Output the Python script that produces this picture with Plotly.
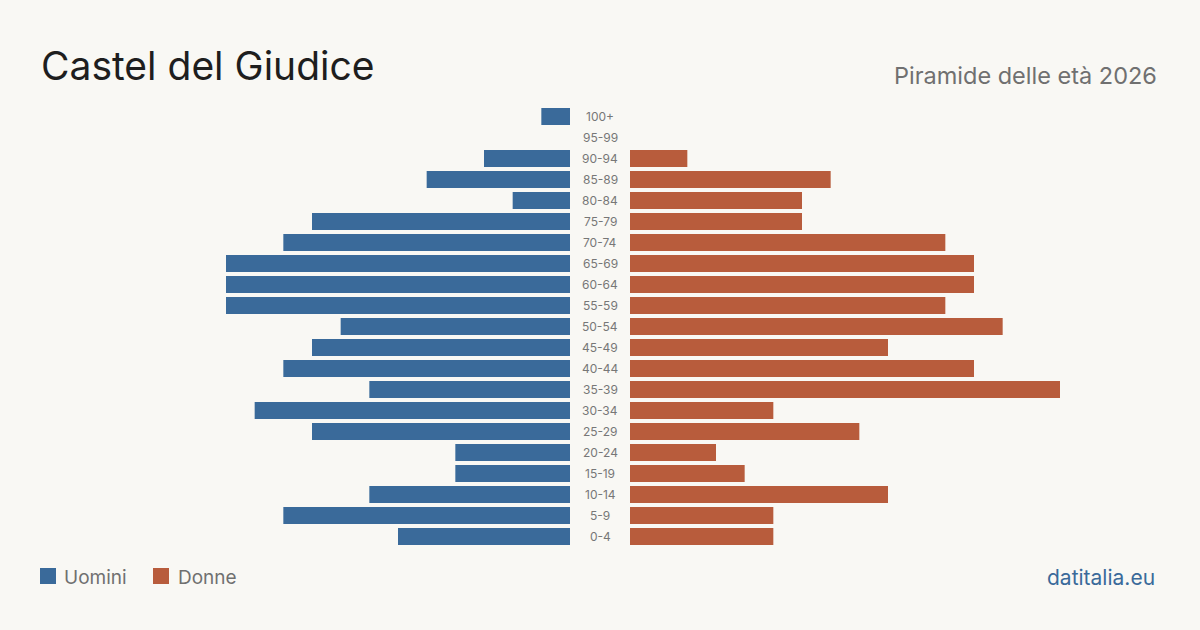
import plotly.graph_objects as go

age_groups = ["0-4", "5-9", "10-14", "15-19", "20-24", "25-29", "30-34", "35-39",
              "40-44", "45-49", "50-54", "55-59", "60-64", "65-69", "70-74", "75-79",
              "80-84", "85-89", "90-94", "95-99", "100+"]
men = [6, 10, 7, 4, 4, 9, 11, 7, 10, 9, 8, 12, 12, 12, 10, 9, 2, 5, 3, 0, 1]
women = [5, 5, 9, 4, 3, 8, 5, 15, 12, 9, 13, 11, 12, 12, 11, 6, 6, 7, 2, 0, 0]

BLUE = "#3a6a9a"
ORANGE = "#b85c3c"
BG = "#f9f8f4"
FONT = "Inter"

TOP, BOTTOM = 106, 83
PLOT_H = 630 - TOP - BOTTOM


def py(px):
    return (630 - BOTTOM - px) / PLOT_H


fig = go.Figure()
fig.add_trace(go.Bar(y=age_groups, x=men, orientation="h",
                     marker=dict(color=BLUE, line=dict(width=0)),
                     xaxis="x", yaxis="y", name="Uomini", showlegend=False))
fig.add_trace(go.Bar(y=age_groups, x=women, orientation="h",
                     marker=dict(color=ORANGE, line=dict(width=0)),
                     xaxis="x2", yaxis="y", name="Donne", showlegend=False))

annotations = []
for a in age_groups:
    annotations.append(dict(x=0.5, xref="paper", y=a, yref="y", text=a, showarrow=False,
                            font=dict(family=FONT, size=12, color="#777777"),
                            xanchor="center", yanchor="middle"))

annotations += [
    dict(x=39 / 1200, y=py(65), xref="paper", yref="paper", text="Castel del Giudice",
         showarrow=False, xanchor="left", yanchor="middle",
         font=dict(family=FONT, size=39, color="#1e1e1e")),
    dict(x=1159 / 1200, y=py(76), xref="paper", yref="paper", text="Piramide delle età 2026",
         showarrow=False, xanchor="right", yanchor="middle",
         font=dict(family=FONT, size=23.5, color="#707070")),
    dict(x=62 / 1200, y=py(577), xref="paper", yref="paper", text="Uomini",
         showarrow=False, xanchor="left", yanchor="middle",
         font=dict(family=FONT, size=19, color="#707070")),
    dict(x=176 / 1200, y=py(577), xref="paper", yref="paper", text="Donne",
         showarrow=False, xanchor="left", yanchor="middle",
         font=dict(family=FONT, size=19, color="#707070")),
    dict(x=1157 / 1200, y=py(577), xref="paper", yref="paper", text="datitalia.eu",
         showarrow=False, xanchor="right", yanchor="middle",
         font=dict(family=FONT, size=21, color=BLUE)),
]

shapes = [
    dict(type="rect", xref="paper", yref="paper", x0=40 / 1200, x1=56 / 1200,
         y0=py(584), y1=py(568), fillcolor=BLUE, line=dict(width=0)),
    dict(type="rect", xref="paper", yref="paper", x0=153 / 1200, x1=169 / 1200,
         y0=py(584), y1=py(568), fillcolor=ORANGE, line=dict(width=0)),
]

fig.update_layout(
    width=1200, height=630,
    margin=dict(l=0, r=0, t=TOP, b=BOTTOM),
    paper_bgcolor=BG, plot_bgcolor=BG,
    bargap=0.19,
    xaxis=dict(domain=[140 / 1200, 570 / 1200], range=[15, 0], visible=False, fixedrange=True),
    xaxis2=dict(domain=[630 / 1200, 1060 / 1200], range=[0, 15], visible=False, fixedrange=True),
    yaxis=dict(categoryorder="array", categoryarray=age_groups, range=[-0.5, 20.5],
               visible=False),
    annotations=annotations,
    shapes=shapes,
    showlegend=False,
)

fig.write_html("out.html")
